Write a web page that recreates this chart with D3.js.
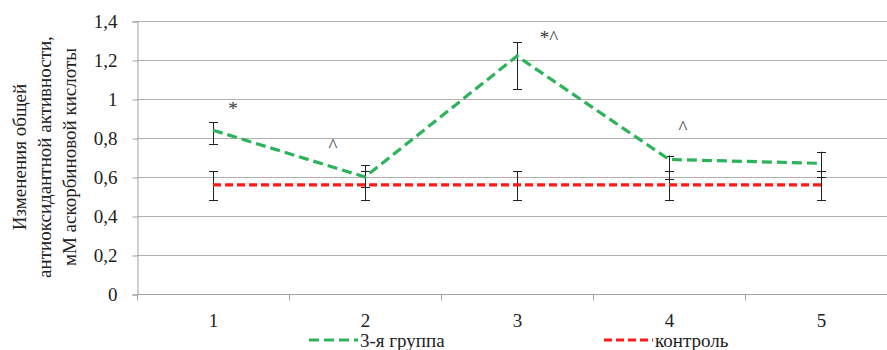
<!DOCTYPE html>
<html>
<head>
<meta charset="utf-8">
<script src="https://cdn.jsdelivr.net/npm/d3@7"></script>
<style>
html,body{margin:0;padding:0;background:#fff;}
</style>
</head>
<body>
<svg id="chart" width="887" height="350"></svg>
<script>
const categories = ["1", "2", "3", "4", "5"];
const groupValues = [0.84, 0.60, 1.22, 0.69, 0.67];
const groupErrPlus = [0.04, 0.06, 0.07, 0.02, 0.06];
const groupErrMinus = [0.07, 0.05, 0.17, 0.10, 0.07];
const controlValues = [0.56, 0.56, 0.56, 0.56, 0.56];
const controlErrPlus = [0.07, 0.07, 0.07, 0.07, 0.07];
const controlErrMinus = [0.08, 0.08, 0.08, 0.08, 0.08];
const yTicks = [0, 0.2, 0.4, 0.6, 0.8, 1.0, 1.2, 1.4];
const yTickLabels = ["0", "0,2", "0,4", "0,6", "0,8", "1", "1,2", "1,4"];
const annotations = [
  {cat: "1", value: 0.92, text: "*", dx: 20},
  {cat: "2", value: 0.73, text: "^", dx: -32},
  {cat: "3", value: 1.28, text: "*^", dx: 32},
  {cat: "4", value: 0.82, text: "^", dx: 14}
];
const seriesNames = ["3-я группа", "контроль"];
const yTitle = ["Изменения общей", "антиоксидантной активности,", "мМ аскорбиновой кислоты"];

(function () {
const FONT = "Liberation Serif";
const FS = 19;
const svg = d3.select("#chart");
const pLeft = 137, pRight = 897, pTop = 21, pBottom = 294;
const x = d3.scaleBand().domain(categories).range([pLeft, pRight]);
const y = d3.scaleLinear().domain([0, 1.4]).range([pBottom, pTop]);
const cx = c => x(c) + x.bandwidth() / 2;

// gridlines
svg.append("g").selectAll("line").data(yTicks.slice(1)).join("line")
  .attr("x1", pLeft).attr("x2", 887)
  .attr("y1", d => Math.round(y(d)) + 0.5).attr("y2", d => Math.round(y(d)) + 0.5)
  .attr("stroke", "#b0b0b0").attr("stroke-width", 1);

// y axis
const yAxis = d3.axisLeft(y).tickValues(yTicks)
  .tickFormat((d, i) => yTickLabels[i]).tickSizeOuter(0).tickSize(5).tickPadding(15);
const gy = svg.append("g").attr("transform", `translate(${pLeft + 0.5},0.5)`).call(yAxis);
gy.attr("font-family", null).attr("font-size", null);
gy.select(".domain").attr("stroke", "#a0a0a0");
gy.selectAll(".tick line").attr("stroke", "#a0a0a0");
gy.selectAll(".tick text").attr("font-size", FS).attr("fill", "#222")
  .style("font-family", FONT);

// x axis
const gx = svg.append("g").attr("transform", `translate(0.5,${pBottom + 0.5})`);
gx.append("line").attr("x1", pLeft).attr("x2", 887).attr("stroke", "#a0a0a0");
const boundaries = categories.map(c => x(c)).concat([x(categories[categories.length-1]) + x.bandwidth()]);
gx.selectAll("line.tk").data(boundaries.filter(b => b < 887)).join("line").attr("class", "tk")
  .attr("x1", d => Math.round(d)).attr("x2", d => Math.round(d)).attr("y1", 0).attr("y2", 6)
  .attr("stroke", "#a0a0a0");
gx.selectAll("text").data(categories).join("text")
  .attr("x", d => cx(d)).attr("y", 32).attr("text-anchor", "middle")
  .attr("font-size", FS).attr("fill", "#222").style("font-family", FONT).text(d => d);

// y title
const yt = svg.append("text").attr("transform", `translate(0,157) rotate(-90)`)
  .attr("text-anchor", "middle").attr("font-size", FS).attr("fill", "#222")
  .style("font-family", FONT);
yt.selectAll("tspan").data(yTitle).join("tspan")
  .attr("x", 0).attr("y", (d, i) => 26 + i * 25).text(d => d);

// error bars
function errBars(vals, plus, minus) {
  const g = svg.append("g").attr("stroke", "#222").attr("stroke-width", 1);
  categories.forEach((c, i) => {
    const xx = Math.round(cx(c)) + 0.5;
    const y1 = y(vals[i] + plus[i]), y2 = y(vals[i] - minus[i]);
    g.append("line").attr("x1", xx).attr("x2", xx).attr("y1", y1).attr("y2", y2);
    [y1, y2].forEach(yy => g.append("line").attr("x1", xx - 4.5).attr("x2", xx + 4.5)
      .attr("y1", Math.round(yy) + 0.5).attr("y2", Math.round(yy) + 0.5));
  });
}

const line = d3.line().x((d, i) => cx(categories[i])).y(d => y(d));

errBars(controlValues, controlErrPlus, controlErrMinus);
errBars(groupValues, groupErrPlus, groupErrMinus);

svg.append("path").datum(controlValues).attr("d", line)
  .attr("fill", "none").attr("stroke", "#ff1a1a").attr("stroke-width", 3.2)
  .attr("stroke-dasharray", "8,4");
svg.append("path").datum(groupValues).attr("d", line)
  .attr("fill", "none").attr("stroke", "#2db35a").attr("stroke-width", 3.2)
  .attr("stroke-dasharray", "10,5");

// annotations
svg.append("g").selectAll("text").data(annotations).join("text")
  .attr("x", d => cx(d.cat) + d.dx).attr("y", d => y(d.value))
  .attr("text-anchor", "middle").attr("font-size", 19)
  .style("font-family", FONT).attr("fill", "#333")
  .text(d => d.text);

// legend
const legend = [
  {name: seriesNames[0], color: "#2db35a", dash: "10,5", x: 309},
  {name: seriesNames[1], color: "#ff1a1a", dash: "8,4", x: 604}
];
const lg = svg.append("g");
legend.forEach(l => {
  lg.append("line").attr("x1", l.x).attr("x2", l.x + 49).attr("y1", 340).attr("y2", 340)
    .attr("stroke", l.color).attr("stroke-width", 3.2).attr("stroke-dasharray", l.dash);
  lg.append("text").attr("x", l.x + 51).attr("y", 347).attr("font-size", FS)
    .attr("fill", "#222").style("font-family", FONT).text(l.name);
});
})();
</script>
</body>
</html>
